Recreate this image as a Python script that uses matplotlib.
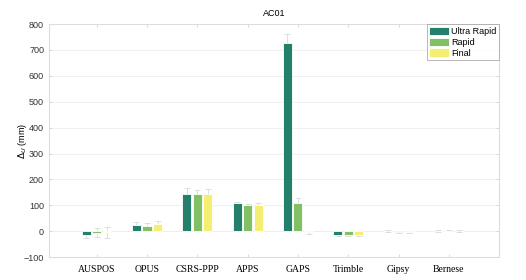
import matplotlib
matplotlib.use("Agg")
import matplotlib.pyplot as plt
import numpy as np

categories = ["AUSPOS", "OPUS", "CSRS-PPP", "APPS", "GAPS", "Trimble", "Gipsy", "Bernese"]
series_names = ["Ultra Rapid", "Rapid", "Final"]
ultra_rapid = [-14, 22, 142, 108, 725, -14, -1, 1]
rapid = [-6, 18, 145, 101, 110, -13, -5, 2]
final = [-5, 26, 142, 102, -5, -15, -4, 0]
err_ultra = [14, 12, 25, 5, 35, 5, 4, 3]
err_rapid = [18, 14, 15, 5, 18, 5, 4, 3]
err_final = [20, 12, 20, 6, 5, 5, 4, 3]
yticks = [-100, 0, 100, 200, 300, 400, 500, 600, 700, 800]

colors = ["#24806a", "#82c066", "#f4ef72"]

fig = plt.figure(figsize=(5.26, 2.8), dpi=100)
ax = fig.add_axes([0.093, 0.082, 0.856, 0.832])

x = np.arange(1, len(categories) + 1)
w = 0.18
offs = [-0.21, 0, 0.21]
for vals, errs, col, off, name in zip([ultra_rapid, rapid, final],
                                      [err_ultra, err_rapid, err_final],
                                      colors, offs, series_names):
    ax.bar(x + off, vals, width=w, color=col, edgecolor="white", linewidth=0.6,
           label=name, zorder=3)
    ax.errorbar(x + off, vals, yerr=errs, fmt="none", ecolor="#d8d8d8",
                elinewidth=0.6, capsize=2.5, capthick=0.6, zorder=2)

ax.set_xlim(0.05, 9)
ax.set_ylim(-100, 800)
ax.set_yticks(yticks)
ax.set_xticks(x)
ax.set_xticklabels(categories, family="Liberation Serif", fontsize=7)
for lab in ax.get_yticklabels():
    lab.set_family("Liberation Sans")
    lab.set_fontsize(6.5)
    lab.set_color("#333333")
ax.yaxis.grid(True, color="#eeeeee", linewidth=0.6, zorder=0)
ax.axhline(0, color="#e6e6e6", linewidth=0.6, zorder=1)
ax.tick_params(axis="both", which="both", direction="in", length=2, width=0.5,
               color="#cccccc", top=True, right=True)
ax.tick_params(axis="x", pad=6)
for s in ax.spines.values():
    s.set_color("#dddddd")
    s.set_linewidth(0.8)

ax.set_title("AC01", fontsize=6.5, family="Liberation Sans", pad=6)
ax.set_ylabel(r"$\Delta_U$ (mm)", fontsize=6.5, family="Liberation Sans", labelpad=-4)

leg = ax.legend(loc="upper right", borderaxespad=0.0,
                prop={"family": "Liberation Sans", "size": 6.5},
                handlelength=2.2, handleheight=1.1, handletextpad=0.2,
                labelspacing=0.15, borderpad=0.3, fancybox=False, frameon=True)
leg.get_frame().set_edgecolor("#999999")
leg.get_frame().set_linewidth(0.6)

fig.savefig("out.png", dpi=100)
